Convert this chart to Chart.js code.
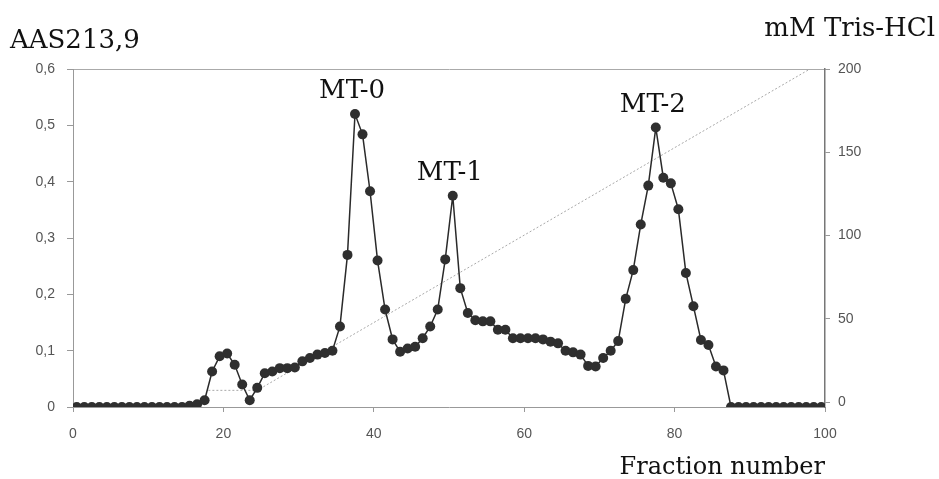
<!DOCTYPE html>
<html>
<head>
<meta charset="utf-8">
<script src="https://cdn.jsdelivr.net/npm/chart.js@4/dist/chart.umd.min.js"></script>
<style>
    html, body { margin: 0; padding: 0; background: #fff; }
    #wrap { position: relative; width: 939px; height: 479px; }
</style>
</head>
<body>
<div id="wrap"><canvas id="elutionChart"></canvas></div>
<script>
// absorbance at 213,9 nm, one reading per fraction
const absorbance = [
    0, 0, 0, 0, 0, 0, 0, 0, 0, 0, 0, 0, 0, 0, 0,
    0.002, 0.005, 0.012, 0.063, 0.09, 0.095, 0.075, 0.04, 0.012, 0.034,
    0.06, 0.063, 0.069, 0.069, 0.07, 0.081, 0.087, 0.093, 0.096, 0.1,
    0.143, 0.27, 0.52, 0.484, 0.383, 0.26, 0.173, 0.12, 0.098, 0.104,
    0.107, 0.122, 0.143, 0.173, 0.262, 0.375, 0.211, 0.167, 0.154, 0.152,
    0.152, 0.137, 0.137, 0.122, 0.122, 0.122, 0.122, 0.12, 0.116, 0.113,
    0.1, 0.097, 0.093, 0.073, 0.072, 0.087, 0.1, 0.117, 0.192, 0.243,
    0.324, 0.393, 0.496, 0.407, 0.397, 0.351, 0.238, 0.179, 0.119, 0.11,
    0.072, 0.065,
    0, 0, 0, 0, 0, 0, 0, 0, 0, 0, 0, 0, 0
];
// fraction number for each reading (fractions are plotted at their centre)
const fractions = absorbance.map((v, i) => i + 0.5);

// Tris-HCl gradient (mM)
const gradientFractions = [18, 24.5, 98];
const gradientTris = [7, 7, 200];

// peak labels
const peakNames = ['MT-0', 'MT-1', 'MT-2'];
const peakIndex = [37, 50, 77];

const xTicks = [0, 20, 40, 60, 80, 100];
const trisTicks = [0, 50, 100, 150, 200];

const tickFont = { family: 'Liberation Sans, Arial, sans-serif', size: 14 };
const serif = 'DejaVu Serif, serif';

const textPlugin = {
    id: 'textPlugin',
    afterDatasetsDraw(chart) {
        const ctx = chart.ctx;
        const meta = chart.getDatasetMeta(0);
        ctx.save();
        ctx.fillStyle = '#111';
        ctx.font = '26px ' + serif;
        ctx.textAlign = 'center';
        ctx.textBaseline = 'alphabetic';
        peakNames.forEach((name, k) => {
            const pt = meta.data[peakIndex[k]];
            ctx.fillText(name, pt.x - 3, pt.y - 16);
        });
        ctx.restore();
    },
    afterDraw(chart) {
        const ctx = chart.ctx;
        const area = chart.chartArea;
        ctx.save();
        ctx.fillStyle = '#111';
        ctx.textBaseline = 'alphabetic';
        ctx.font = '26px ' + serif;
        ctx.textAlign = 'left';
        ctx.fillText('AAS213,9', 10, 48);
        ctx.textAlign = 'right';
        ctx.fillText('mM Tris-HCl', chart.width - 4, 36);
        ctx.font = '24px ' + serif;
        ctx.fillText('Fraction number', area.right, 474);
        ctx.restore();
    }
};

const ctx = document.getElementById('elutionChart').getContext('2d');
new Chart(ctx, {
    type: 'line',
    data: {
        datasets: [{
            data: fractions.map((f, i) => ({ x: f, y: absorbance[i] })),
            yAxisID: 'y',
            borderColor: '#2a2a2a',
            borderWidth: 1.5,
            pointRadius: 5,
            pointBackgroundColor: '#2f2f2f',
            pointBorderWidth: 0,
            tension: 0
        }, {
            data: gradientFractions.map((f, i) => ({ x: f, y: gradientTris[i] })),
            yAxisID: 'y1',
            borderColor: '#a8a8a8',
            borderWidth: 1,
            borderDash: [2, 2],
            pointRadius: 0,
            tension: 0
        }]
    },
    options: {
        responsive: true,
        maintainAspectRatio: false,
        animation: false,
        events: [],
        layout: { padding: 0 },
        plugins: {
            legend: { display: false },
            tooltip: { enabled: false }
        },
        scales: {
            x: {
                type: 'linear',
                position: 'bottom',
                min: 0,
                max: 100,
                afterBuildTicks: axis => { axis.ticks = xTicks.map(v => ({ value: v })); },
                afterFit: scale => { scale.height = 72; },
                ticks: { color: '#555', font: tickFont, padding: 14, maxRotation: 0 },
                grid: { drawOnChartArea: false, tickLength: 5, color: '#999' },
                border: { color: '#999', width: 1 }
            },
            x2: {
                type: 'linear',
                position: 'top',
                min: 0,
                max: 100,
                afterFit: scale => { scale.height = 69; },
                ticks: { display: false },
                grid: { display: false },
                border: { color: '#aaa', width: 1 }
            },
            y: {
                position: 'left',
                min: 0,
                max: 0.6,
                afterFit: scale => { scale.width = 73; },
                ticks: {
                    stepSize: 0.1,
                    color: '#555',
                    font: tickFont,
                    padding: 12,
                    callback: v => v === 0 ? '0' : v.toFixed(1).replace('.', ',')
                },
                grid: { drawOnChartArea: false, tickLength: 6, color: '#999' },
                border: { color: '#999', width: 1 }
            },
            y1: {
                position: 'right',
                min: -3,
                max: 200,
                afterFit: scale => { scale.width = 114; },
                afterBuildTicks: axis => { axis.ticks = trisTicks.map(v => ({ value: v })); },
                ticks: { color: '#555', font: tickFont, padding: 8 },
                grid: { drawOnChartArea: false, tickLength: 5, color: '#999' },
                border: { color: '#777', width: 1.5 }
            }
        }
    },
    plugins: [textPlugin]
});
</script>
</body>
</html>
